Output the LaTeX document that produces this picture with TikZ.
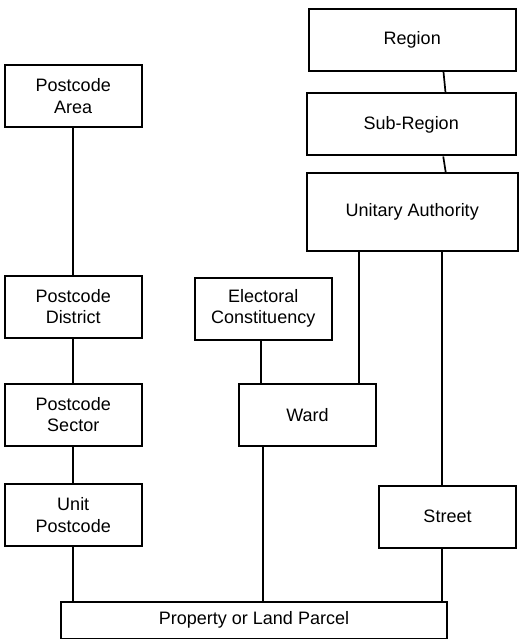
\documentclass[tikz,border=0pt]{standalone}
\usepackage{fontspec}
\setmainfont{Liberation Sans}
\begin{document}
\begin{tikzpicture}[x=1pt,y=-1pt,
  box/.style={draw=black, line width=2pt, fill=white, align=center, inner sep=0pt,
    font=\fontsize{18}{21.6}\selectfont},
  link/.style={draw=black, line width=1.7pt}]
\useasboundingbox[fill=white] (0,0) rectangle (519,639);
% right column
\node[box, minimum width=206.5pt, minimum height=61.5pt] (reg) at (412.25,40.25) {Region};
\node[box, minimum width=208.5pt, minimum height=62pt] (sub) at (411.25,124.5) {Sub-Region};
\node[box, minimum width=210.5pt, minimum height=77.5pt] (ua) at (412.25,212.25) {Unitary Authority};
% postcode column
\node[box, minimum width=136.5pt, minimum height=62.5pt] (pa) at (73.25,96.25) {Postcode\\Area};
\node[box, minimum width=136.5pt, minimum height=62.5pt] (pd) at (73.25,306.75) {Postcode\\District};
\node[box, minimum width=136.5pt, minimum height=62.5pt] (ps) at (73.25,414.75) {Postcode\\Sector};
\node[box, minimum width=136.5pt, minimum height=62pt] (up) at (73.25,515) {Unit\\Postcode};
% middle
\node[box, minimum width=136.5pt, minimum height=62pt] (ec) at (263.25,308.5) {Electoral\\Constituency};
\node[box, minimum width=137pt, minimum height=62.5pt] (ward) at (307.5,414.75) {Ward};
\node[box, minimum width=137pt, minimum height=62pt] (st) at (447.5,516.5) {Street};
\node[box, minimum width=386pt, minimum height=37pt] (prop) at (254,620) {Property or Land Parcel};
% connectors
\draw[link] ([xshift=31.25pt]reg.south) -- ([xshift=34.25pt]sub.north);
\draw[link] ([xshift=32pt]sub.south) -- ([xshift=33.5pt]ua.north);
\draw[link] (pa.south) -- (pd.north);
\draw[link] (pd.south) -- (ps.north);
\draw[link] (ps.south) -- (up.north);
\draw[link] (up.south) -- (up.south |- prop.north);
\draw[link] ([xshift=-2.25pt]ec.south) -- ([xshift=-2.25pt]ec.south |- ward.north);
\draw[link] ([xshift=-53pt]ua.south) -- ([xshift=-53pt]ua.south |- ward.north);
\draw[link] ([xshift=29.5pt]ua.south) -- ([xshift=29.5pt]ua.south |- st.north);
\draw[link] ([xshift=-44.2pt]ward.south) -- ([xshift=-44.2pt]ward.south |- prop.north);
\draw[link] ([xshift=-5.8pt]st.south) -- ([xshift=-5.8pt]st.south |- prop.north);
\end{tikzpicture}
\end{document}
